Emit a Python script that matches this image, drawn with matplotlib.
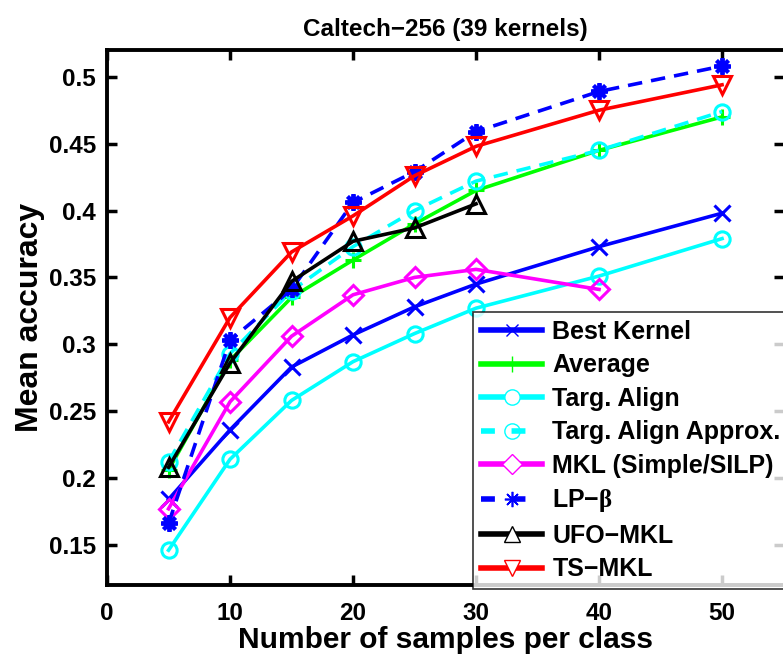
import numpy as np
import matplotlib
matplotlib.use("Agg")
import matplotlib.pyplot as plt
from matplotlib.lines import Line2D

plt.rcParams['font.family'] = ['Liberation Sans', 'DejaVu Sans']
plt.rcParams['font.weight'] = 'bold'
plt.rcParams['mathtext.fontset'] = 'custom'
plt.rcParams['mathtext.rm'] = 'Liberation Serif'
plt.rcParams['mathtext.it'] = 'Liberation Serif'

# Ortalama dogruluk degerleri (sinif basina ornek sayisina gore)
samples = [5, 10, 15, 20, 25, 30, 40, 50]
best_kernel = [0.184, 0.236, 0.283, 0.307, 0.328, 0.345, 0.373, 0.398]
average = [0.206, 0.288, 0.335, 0.363, 0.390, 0.415, 0.445, 0.470]
targ_align = [0.146, 0.214, 0.258, 0.287, 0.308, 0.327, 0.351, 0.379]
targ_align_approx = [0.212, 0.293, 0.340, 0.373, 0.400, 0.422, 0.445, 0.474]
mkl_samples = [5, 10, 15, 20, 25, 30, 40]
mkl = [0.177, 0.257, 0.306, 0.337, 0.350, 0.356, 0.341]
lp_beta = [0.166, 0.303, 0.341, 0.406, 0.429, 0.459, 0.489, 0.508]
ufo_samples = [5, 10, 15, 20, 25, 30]
ufo_mkl = [0.208, 0.286, 0.347, 0.377, 0.387, 0.405]
ts_mkl = [0.242, 0.320, 0.369, 0.396, 0.426, 0.448, 0.475, 0.494]

xticks = [0, 10, 20, 30, 40, 50]
yticks = [0.15, 0.2, 0.25, 0.3, 0.35, 0.4, 0.45, 0.5]
ytick_labels = ['0.15', '0.2', '0.25', '0.3', '0.35', '0.4', '0.45', '0.5']

fig = plt.figure(figsize=(7.83, 6.54), dpi=100)
ax = fig.add_axes([0.1367, 0.1055, 0.864, 0.818])

lw = 2.6
ms = 11
mew = 2.2
asterisk = (8, 2, 0)

ax.plot(samples, best_kernel, '-x', color='blue', lw=lw, ms=ms, mew=mew)
ax.plot(samples, average, '-+', color=(0, 1, 0), lw=lw, ms=ms, mew=mew)
ax.plot(samples, targ_align, '-o', color='cyan', lw=lw, ms=ms, mew=mew, mfc='none')
ax.plot(samples, targ_align_approx, '--o', color='cyan', lw=lw, ms=ms, mew=mew,
        mfc='none', dashes=(4, 2.5))
ax.plot(mkl_samples, mkl, '-D', color='magenta', lw=lw, ms=ms * 0.9, mew=mew, mfc='none')
ax.plot(samples, lp_beta, '--', marker=asterisk, color='blue', lw=lw, ms=ms + 1, mew=mew + 0.6,
        dashes=(4, 2.5))
ax.plot(ufo_samples, ufo_mkl, '-^', color='black', lw=lw, ms=ms + 2, mew=mew, mfc='none')
ax.plot(samples, ts_mkl, '-v', color='red', lw=lw, ms=ms + 2, mew=mew, mfc='none')

ax.set_xlim(0, 55)
ax.set_ylim(0.12, 0.52)
ax.set_xticks(xticks)
ax.set_yticks(yticks)
ax.set_yticklabels(ytick_labels)
ax.tick_params(direction='in', length=7, width=2.5, labelsize=17.5, top=True, right=True)
ax.tick_params(axis='x', pad=12)
ax.tick_params(axis='y', pad=8)
for sp in ax.spines.values():
    sp.set_linewidth(2.8)
ax.spines['right'].set_visible(False)

ax.set_xlabel('Number of samples per class', fontsize=21.5, fontweight='bold', labelpad=1)
ax.set_ylabel('Mean accuracy', fontsize=23, fontweight='bold', labelpad=3)
ax.set_title('Caltech\u2212256 (39 kernels)', fontsize=17.5, fontweight='bold', pad=10)

# Lejant: ince cizgili kucuk isaretler
handles = [
    Line2D([], [], color='blue', lw=4, marker='x', ms=9, mew=1),
    Line2D([], [], color=(0, 1, 0), lw=4, marker='+', ms=12, mew=1),
    Line2D([], [], color='cyan', lw=4, marker='o', ms=11, mew=1, mfc='white'),
    Line2D([], [], color='cyan', lw=4, ls='--', dashes=(2.5, 3), marker='o', ms=11, mew=1, mfc='none'),
    Line2D([], [], color='magenta', lw=4, marker='D', ms=10, mew=1, mfc='white'),
    Line2D([], [], color='blue', lw=4, ls='--', dashes=(2.5, 3), marker=asterisk, ms=11, mew=1.2),
    Line2D([], [], color='black', lw=4, marker='^', ms=12, mew=1, mfc='white'),
    Line2D([], [], color='red', lw=4, marker='v', ms=12, mew=1, mfc='white'),
]
labels = ['Best Kernel', 'Average', 'Targ. Align', 'Targ. Align Approx.',
          'MKL (Simple/SILP)', 'LP\u2212$\\beta$', 'UFO\u2212MKL', 'TS\u2212MKL']
leg = ax.legend(handles, labels, loc='lower left', bbox_to_anchor=(0.541, -0.008),
                fontsize=18, frameon=True, fancybox=False, edgecolor='black',
                handlelength=2.45, handletextpad=0.4, labelspacing=0.38,
                borderpad=0.32, borderaxespad=0)
leg.get_frame().set_linewidth(1.2)

fig.savefig('out.png', dpi=100)
